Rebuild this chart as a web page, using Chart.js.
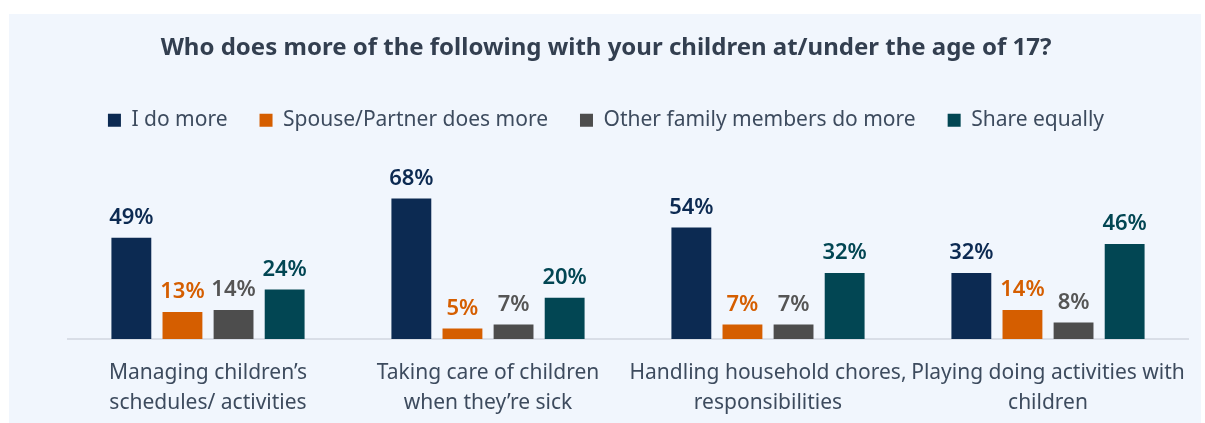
<!DOCTYPE html>
<html>
<head>
<meta charset="utf-8">
<script src="https://cdn.jsdelivr.net/npm/chart.js@4/dist/chart.umd.min.js"></script>
<style>
  body { margin: 0; background: #ffffff; }
  .panel { position: absolute; left: 9px; top: 14px; width: 1192px; height: 409px; background: #f1f6fd; overflow: hidden; }
</style>
</head>
<body>
<div class="panel"><canvas id="chart" width="1192" height="423"></canvas></div>
<script>
const categories = [
  ['Managing children\u2019s', 'schedules/ activities'],
  ['Taking care of children', 'when they\u2019re sick'],
  ['Handling household chores,', 'responsibilities'],
  ['Playing doing activities with', 'children']
];
const iDoMore = [49, 68, 54, 32];
const partnerMore = [13, 5, 7, 14];
const otherFamily = [14, 7, 7, 8];
const shareEqually = [24, 20, 32, 46];

const FONT = "'Noto Sans', 'Open Sans', sans-serif";

// value labels above each bar
const barLabels = {
  id: 'barLabels',
  afterDatasetsDraw(chart) {
    const ctx = chart.ctx;
    ctx.save();
    ctx.font = '600 22px ' + FONT;
    ctx.textAlign = 'center';
    ctx.textBaseline = 'bottom';
    chart.data.datasets.forEach((ds, i) => {
      chart.getDatasetMeta(i).data.forEach((bar, j) => {
        ctx.fillStyle = ds.labelColor;
        ctx.fillText(ds.data[j] + '%', bar.x, bar.y - 9);
      });
    });
    ctx.restore();
  }
};

const ctx = document.getElementById('chart').getContext('2d');
new Chart(ctx, {
  type: 'bar',
  data: {
    labels: categories,
    datasets: [
      { label: 'I do more', data: iDoMore, backgroundColor: '#0c2a52', labelColor: '#0c2a52' },
      { label: 'Spouse/Partner does more', data: partnerMore, backgroundColor: '#d55e00', labelColor: '#d55e00' },
      { label: 'Other family members do more', data: otherFamily, backgroundColor: '#4d4d4d', labelColor: '#555555' },
      { label: 'Share equally', data: shareEqually, backgroundColor: '#024653', labelColor: '#024653' }
    ]
  },
  options: {
    responsive: false,
    animation: false,
    layout: { padding: { left: 15, right: 13, bottom: 0 } },
    datasets: { bar: { categoryPercentage: 0.73, barPercentage: 0.78 } },
    plugins: {
      title: {
        display: true,
        text: 'Who does more of the following with your children at/under the age of 17?',
        color: '#333f50',
        font: { family: FONT, size: 24, weight: 'bold' },
        padding: { top: 20, bottom: 15 }
      },
      legend: {
        labels: {
          color: '#3d4b5e',
          font: { family: FONT, size: 21 },
          boxWidth: 13,
          boxHeight: 13,
          padding: 32
        }
      },
      tooltip: { enabled: false }
    },
    scales: {
      x: {
        grid: { display: false, drawTicks: false },
        border: { display: true, color: '#d9dee7', width: 2 },
        ticks: { color: '#3d4b5e', font: { family: FONT, size: 21, lineHeight: 1.43 }, padding: 19, maxRotation: 0, autoSkip: false },
        afterFit(scale) { scale.paddingLeft = 0; scale.paddingRight = 0; }
      },
      y: {
        min: 0, max: 96,
        grid: { display: false },
        border: { display: false },
        ticks: { display: false },
        afterFit(scale) { scale.width = 44; }
      }
    }
  },
  plugins: [barLabels]
});
</script>
</body>
</html>
